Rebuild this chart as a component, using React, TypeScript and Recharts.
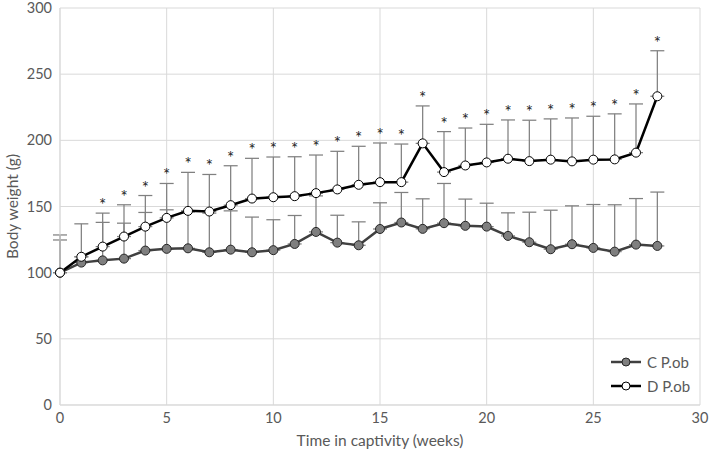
import React from 'react';
import { LineChart, Line, XAxis, YAxis, CartesianGrid, ErrorBar, Legend, LabelList, Label } from 'recharts';

const weeks = [0, 1, 2, 3, 4, 5, 6, 7, 8, 9, 10, 11, 12, 13, 14, 15, 16, 17, 18, 19, 20, 21, 22, 23, 24, 25, 26, 27, 28];

const cMean = [100, 107.6, 109.3, 110.6, 116.7, 118, 118.4, 115.4, 117.4, 115.4, 117, 121.7, 130.8, 122.7, 120.7, 133, 137.9, 133.1, 137.4, 135.4, 134.8, 127.8, 123, 117.7, 121.5, 118.7, 115.9, 121.2, 120.2];
const cErr = [24.7, 4.4, 28.7, 26.8, 28.8, 29.5, 27.6, 29.6, 29.3, 26.6, 23, 21.5, 27.2, 20.7, 17.7, 19.8, 22.7, 22.7, 30, 20.2, 17.7, 17.4, 22.7, 29.5, 29, 32.8, 35.4, 34.8, 40.7];

const dMean = [100, 112, 119.7, 127.3, 134.8, 141.4, 146.7, 146.2, 151, 156, 157, 157.8, 160.1, 162.9, 166.4, 168.4, 168.4, 197.7, 176, 181, 183.3, 186.1, 184.3, 185.4, 184.1, 185.4, 185.6, 190.7, 233.3];
const dErr = [28.5, 24.9, 25.3, 24, 23.5, 26, 29.1, 28, 29.8, 30.4, 30.4, 29.8, 28.8, 28.8, 29.1, 29.6, 28.8, 28.3, 30.6, 28.3, 28.8, 29.3, 30.9, 30.8, 32.8, 32.8, 34.4, 36.8, 34.4];

const sig = ['', '', '*', '*', '*', '*', '*', '*', '*', '*', '*', '*', '*', '*', '*', '*', '*', '*', '*', '*', '*', '*', '*', '*', '*', '*', '*', '*', '*'];

const seriesNames = ['C P.ob', 'D P.ob'];
const xTicks = [0, 5, 10, 15, 20, 25, 30];
const yTicks = [0, 50, 100, 150, 200, 250, 300];

const data = weeks.map((w, i) => ({
  week: w,
  c: cMean[i],
  cE: [0, cErr[i]],
  d: dMean[i],
  dE: [0, dErr[i]],
  dTop: dMean[i] + dErr[i],
  sig: sig[i],
}));

const FONT = 'Lato, "Open Sans", sans-serif';
const TEXT = '#595959';

const markerStyle: Record<string, { fill: string; stroke: string; line: string }> = {
  c: { fill: '#7f7f7f', stroke: '#262626', line: '#404040' },
  d: { fill: '#ffffff', stroke: '#000000', line: '#000000' },
};

const renderLegend = (props: any) => {
  const items = (props.payload || []).filter((p: any) => p.dataKey === 'c' || p.dataKey === 'd');
  return (
    <div style={{ fontFamily: FONT }}>
      {items.map((p: any) => {
        const st = markerStyle[p.dataKey as string];
        return (
          <div key={p.dataKey} style={{ display: 'flex', alignItems: 'center', height: 24 }}>
            <svg width={30} height={12} style={{ display: 'block' }}>
              <line x1={0} y1={6} x2={30} y2={6} stroke={st.line} strokeWidth={2.5} />
              <circle cx={15} cy={6} r={4} fill={st.fill} stroke={st.stroke} strokeWidth={1} />
            </svg>
            <span style={{ marginLeft: 6, fontSize: 15, color: TEXT }}>{p.value}</span>
          </div>
        );
      })}
    </div>
  );
};

export default function App() {
  return (
    <div style={{ position: 'absolute', left: 0, top: 0, width: 709, height: 455, background: '#fff' }}>
      <LineChart
        width={709}
        height={455}
        data={data}
        margin={{ top: 8, right: 9, left: 0, bottom: 0 }}
        style={{ fontFamily: FONT }}
      >
        <CartesianGrid stroke="#d9d9d9" strokeWidth={1} />
        <XAxis
          dataKey="week"
          type="number"
          domain={[0, 30]}
          ticks={xTicks}
          height={50}
          tickLine={false}
          axisLine={{ stroke: '#d9d9d9' }}
          tick={{ fill: TEXT, fontSize: 14.5 }}
          interval={0}
        >
          <Label value="Time in captivity (weeks)" position="insideBottom" offset={9} fill={TEXT} fontSize={15.5} />
        </XAxis>
        <YAxis
          type="number"
          domain={[0, 300]}
          ticks={yTicks}
          width={60}
          tickLine={false}
          axisLine={{ stroke: '#d9d9d9' }}
          tick={{ fill: TEXT, fontSize: 14.5 }}
          tickMargin={2}
          interval={0}
        >
          <Label
            value="Body weight (g)"
            angle={-90}
            position="insideLeft"
            offset={12}
            fill={TEXT}
            fontSize={15.5}
            style={{ textAnchor: 'middle' }}
          />
        </YAxis>
        <Legend
          content={renderLegend}
          wrapperStyle={{ position: 'absolute', left: 611, top: 350, width: 90, height: 0, overflow: 'visible' }}
        />
        <Line
          dataKey="c"
          name={seriesNames[0]}
          stroke={markerStyle.c.line}
          strokeWidth={2.5}
          dot={{ r: 4.5, fill: markerStyle.c.fill, stroke: markerStyle.c.stroke, strokeWidth: 1 }}
          activeDot={false}
          isAnimationActive={false}
        >
          <ErrorBar dataKey="cE" direction="y" width={7} stroke="#808080" strokeWidth={1.25} />
        </Line>
        <Line
          dataKey="d"
          name={seriesNames[1]}
          stroke={markerStyle.d.line}
          strokeWidth={2.5}
          dot={{ r: 4.5, fill: markerStyle.d.fill, stroke: markerStyle.d.stroke, strokeWidth: 1 }}
          activeDot={false}
          isAnimationActive={false}
        >
          <ErrorBar dataKey="dE" direction="y" width={7} stroke="#808080" strokeWidth={1.25} />
        </Line>
        <Line
          dataKey="dTop"
          stroke="none"
          dot={false}
          activeDot={false}
          legendType="none"
          isAnimationActive={false}
        >
          <LabelList dataKey="sig" position="top" offset={2} fill="#262626" fontSize={17} />
        </Line>
      </LineChart>
    </div>
  );
}
